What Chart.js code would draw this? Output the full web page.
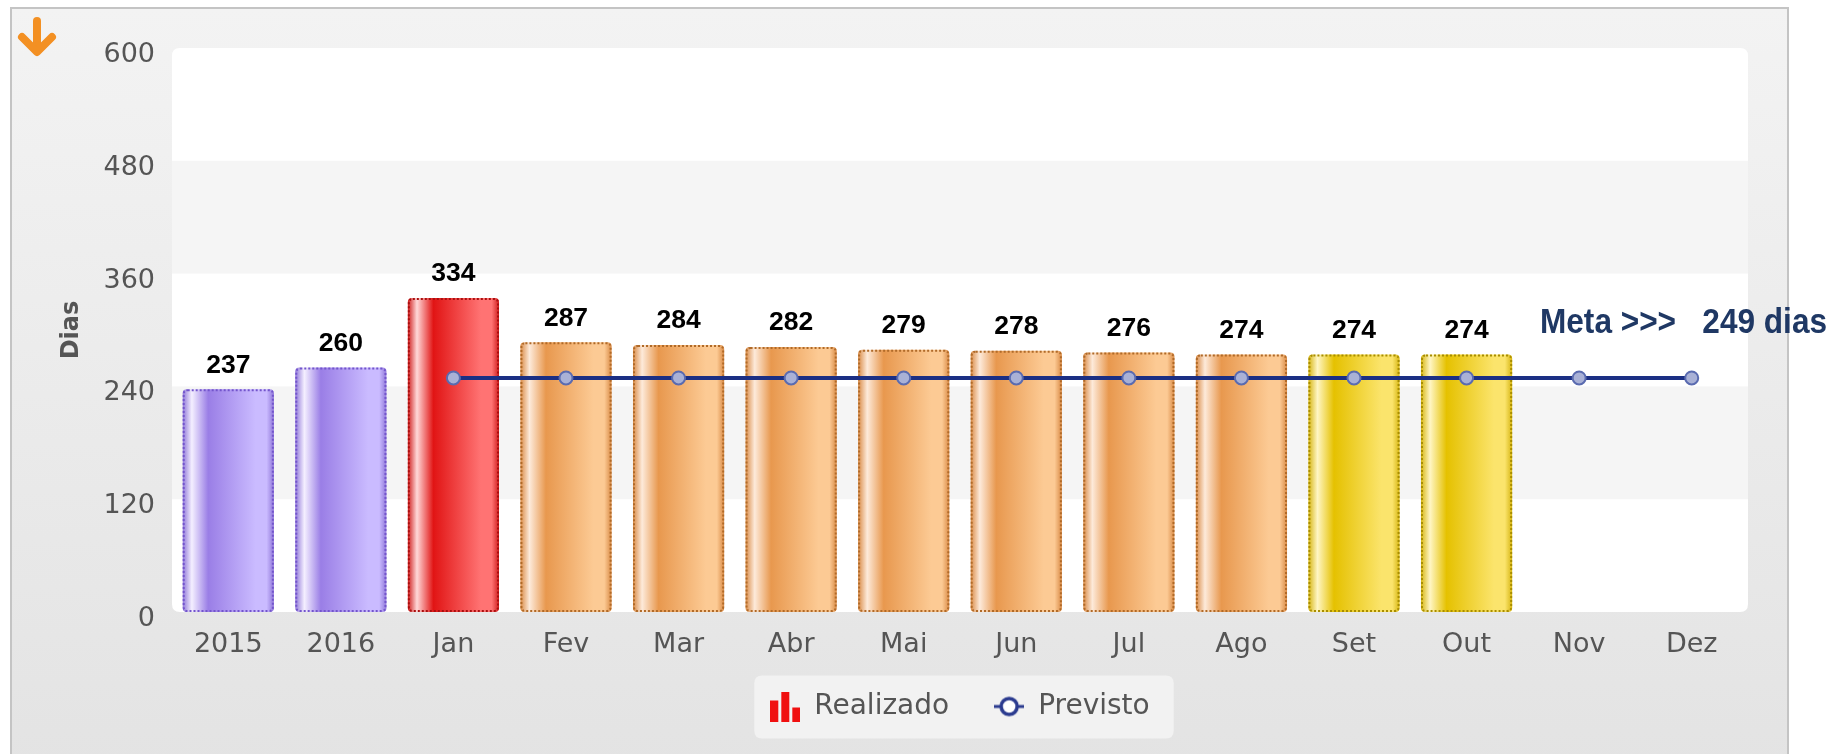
<!DOCTYPE html>
<html>
<head>
<meta charset="utf-8">
<script src="https://cdn.jsdelivr.net/npm/chart.js@4.4.1/dist/chart.umd.min.js"></script>
<style>
html,body{margin:0;padding:0;background:#fff;width:1848px;height:754px;overflow:hidden}
#panel{position:absolute;left:10px;top:7px;width:1775px;height:770px;border:2px solid #c4c4c4;background:linear-gradient(#f3f3f3,#e3e3e3)}
#wrap{position:absolute;left:0;top:0;width:1848px;height:754px}
</style>
</head>
<body>
<div id="panel"></div>
<div id="wrap"><canvas id="c"></canvas></div>
<script>
// ---- data ----
const categories = ['2015','2016','Jan','Fev','Mar','Abr','Mai','Jun','Jul','Ago','Set','Out','Nov','Dez'];
const realizado = [237,260,334,287,284,282,279,278,276,274,274,274,null,null];
const previsto  = [null,null,249,249,249,249,249,249,249,249,249,249,249,249];
const metaValue = 249;
const yMin = 0, yMax = 600, yStep = 120;
const seriesNames = ['Realizado','Previsto'];
const yTitle = 'Dias';
const metaText = 'Meta >>>   ' + metaValue + ' dias';

// ---- styles ----
const palettes = {
  purple: {edge:'#8f76d9', hi:'#f4efff', dark:'#9a7ee6', light:'#cabbff', border:'#7355cc'},
  red:    {edge:'#cf1c1c', hi:'#ffd8d8', dark:'#e11414', light:'#ff7373', border:'#a80e0e'},
  orange: {edge:'#d98a45', hi:'#fdeada', dark:'#e8984e', light:'#fcca94', border:'#b06a28'},
  yellow: {edge:'#d6b511', hi:'#fff6c4', dark:'#e5c100', light:'#fbe46c', border:'#a88d00'}
};
const barStyle = ['purple','purple','red','orange','orange','orange','orange','orange','orange','orange','yellow','yellow','orange','orange'];
const tickFont = '"DejaVu Sans", Verdana, sans-serif';

function rr(ctx, x, y, w, h, r) {
  ctx.beginPath();
  ctx.moveTo(x + r, y);
  ctx.lineTo(x + w - r, y);
  ctx.quadraticCurveTo(x + w, y, x + w, y + r);
  ctx.lineTo(x + w, y + h - r);
  ctx.quadraticCurveTo(x + w, y + h, x + w - r, y + h);
  ctx.lineTo(x + r, y + h);
  ctx.quadraticCurveTo(x, y + h, x, y + h - r);
  ctx.lineTo(x, y + r);
  ctx.quadraticCurveTo(x, y, x + r, y);
  ctx.closePath();
}

function barFill(c) {
  const p = palettes[barStyle[c.dataIndex] || 'orange'];
  const chart = c.chart;
  const a = chart.chartArea;
  if (!a || c.dataIndex === undefined || !chart.scales.x) return p.dark;
  const xs = chart.scales.x;
  const cx = xs.getPixelForValue(c.dataIndex);
  const w = xs.width / categories.length * 0.81;
  const g = chart.ctx.createLinearGradient(cx - w / 2, 0, cx + w / 2, 0);
  g.addColorStop(0, p.edge);
  g.addColorStop(0.1, p.hi);
  g.addColorStop(0.28, p.dark);
  g.addColorStop(0.8, p.light);
  g.addColorStop(0.92, p.light);
  g.addColorStop(1, p.edge);
  return g;
}

// legend icons
function makeBarIcon() {
  const cv = document.createElement('canvas');
  cv.width = 30; cv.height = 30;
  const x = cv.getContext('2d');
  x.fillStyle = '#f01010';
  x.fillRect(0, 9, 8, 21);
  x.fillRect(11, 0, 8, 30);
  x.fillRect(22, 16, 8, 14);
  return cv;
}
function makeLineIcon() {
  const cv = document.createElement('canvas');
  cv.width = 30; cv.height = 30;
  const x = cv.getContext('2d');
  x.strokeStyle = '#2b3b8f';
  x.lineWidth = 3;
  x.beginPath(); x.moveTo(0, 15); x.lineTo(30, 15); x.stroke();
  x.beginPath(); x.arc(15, 15, 8, 0, Math.PI * 2);
  x.fillStyle = '#fff'; x.fill();
  x.lineWidth = 3.5; x.stroke();
  return cv;
}
const barIcon = makeBarIcon();
const lineIcon = makeLineIcon();

const decorPlugin = {
  id: 'decor',
  beforeDraw(chart) {
    const {ctx, chartArea: a, scales: {y}} = chart;
    ctx.save();
    rr(ctx, a.left, a.top, a.width, a.height, 8);
    ctx.fillStyle = '#ffffff';
    ctx.fill();
    ctx.clip();
    ctx.fillStyle = '#f5f5f5';
    for (let v = yMin; v < yMax; v += yStep) {
      if (((v - yMin) / yStep) % 2 === 1) {
        const y1 = y.getPixelForValue(v + yStep), y2 = y.getPixelForValue(v);
        ctx.fillRect(a.left, y1, a.width, y2 - y1);
      }
    }
    ctx.restore();
    // legend background
    const lg = chart.legend;
    if (lg && lg.legendHitBoxes && lg.legendHitBoxes.length) {
      const hb = lg.legendHitBoxes;
      const l = hb[0].left - 16;
      const r = hb[hb.length - 1].left + hb[hb.length - 1].width + 24;
      const t = hb[0].top - 17;
      const b = hb[0].top + hb[0].height + 18;
      ctx.save();
      rr(ctx, l, t, r - l, b - t, 8);
      ctx.fillStyle = '#f2f2f2';
      ctx.fill();
      ctx.restore();
    }
  },
  afterDatasetDraw(chart, args) {
    if (args.index !== 0) return;
    const ctx = chart.ctx;
    const meta = chart.getDatasetMeta(0);
    ctx.save();
    ctx.setLineDash([2, 2]);
    ctx.lineWidth = 2;
    meta.data.forEach((el, i) => {
      if (realizado[i] == null) return;
      const {x, y, base, width} = el.getProps(['x', 'y', 'base', 'width'], true);
      ctx.strokeStyle = palettes[barStyle[i]].border;
      rr(ctx, x - width / 2 + 1, y + 1, width - 2, base - y - 2, 4);
      ctx.stroke();
    });
    ctx.restore();
  },
  afterDatasetsDraw(chart) {
    const ctx = chart.ctx;
    const meta = chart.getDatasetMeta(0);
    ctx.save();
    ctx.font = 'bold 26.5px "Liberation Sans", Arial, sans-serif';
    ctx.fillStyle = '#000';
    ctx.textAlign = 'center';
    ctx.textBaseline = 'middle';
    meta.data.forEach((el, i) => {
      if (realizado[i] == null) return;
      ctx.fillText(String(realizado[i]), el.x, el.y - 24);
    });
    // meta text (condensed bold)
    const ys = chart.scales.y;
    ctx.font = 'bold 35px "Liberation Sans", Arial, sans-serif';
    ctx.fillStyle = '#1f3864';
    ctx.textAlign = 'left';
    const tw = ctx.measureText(metaText).width;
    const targetW = 287;
    ctx.translate(chart.chartArea.right - 208, ys.getPixelForValue(metaValue) - 55);
    ctx.scale(targetW / tw, 1);
    ctx.fillText(metaText, 0, 0);
    ctx.restore();
  },
  afterDraw(chart) {
    const ctx = chart.ctx;
    ctx.save();
    ctx.strokeStyle = '#f39023';
    ctx.lineCap = 'round';
    ctx.lineJoin = 'round';
    ctx.lineWidth = 8;
    ctx.beginPath(); ctx.moveTo(37, 21); ctx.lineTo(37, 50); ctx.stroke();
    ctx.beginPath(); ctx.moveTo(22, 37); ctx.lineTo(37, 52); ctx.lineTo(52, 37); ctx.stroke();
    ctx.restore();
  }
};

new Chart(document.getElementById('c'), {
  type: 'bar',
  data: {
    labels: categories,
    datasets: [
      {
        type: 'bar',
        label: seriesNames[0],
        data: realizado,
        order: 1,
        backgroundColor: barFill,
        borderWidth: 0,
        borderRadius: 4,
        borderSkipped: false,
        barPercentage: 0.81,
        categoryPercentage: 1
      },
      {
        type: 'line',
        label: seriesNames[1],
        data: previsto,
        order: 0,
        borderColor: '#1b2f84',
        borderWidth: 4,
        pointRadius: 6.5,
        pointBackgroundColor: '#a9b1d6',
        pointBorderColor: '#5a6bb0',
        pointBorderWidth: 2,
        tension: 0,
        spanGaps: false
      }
    ]
  },
  options: {
    responsive: true,
    maintainAspectRatio: false,
    animation: false,
    events: [],
    layout: { padding: { left: 0, right: 100, top: 48, bottom: 23.5 } },
    scales: {
      x: {
        grid: { display: false, drawTicks: false },
        border: { display: false },
        ticks: { color: '#555', font: { family: tickFont, size: 27 }, padding: 17, maxRotation: 0, autoSkip: false },
        afterFit(s) { s.height = 35.5; s._computeLabelArea = () => undefined; }
      },
      y: {
        min: yMin, max: yMax,
        grid: { display: false, drawTicks: false },
        border: { display: false },
        ticks: { stepSize: yStep, color: '#555', font: { family: tickFont, size: 27 }, padding: 17, labelOffset: 7 },
        title: { display: true, text: yTitle, color: '#555', font: { family: tickFont, size: 24, weight: 'bold' }, padding: { top: 57.6, bottom: 0 } },
        afterFit(s) { s.width = 172; }
      }
    },
    plugins: {
      tooltip: { enabled: false },
      legend: {
        display: true,
        position: 'bottom',
        fullSize: false,
        labels: {
          usePointStyle: true,
          pointStyleWidth: 30,
          padding: 45,
          color: '#555',
          font: { family: tickFont, size: 28 },
          generateLabels: () => [
            { text: seriesNames[0], pointStyle: barIcon, fillStyle: '#f01010', strokeStyle: '#f01010', lineWidth: 0, hidden: false, datasetIndex: 0, fontColor: '#555' },
            { text: seriesNames[1], pointStyle: lineIcon, fillStyle: '#2b3b8f', strokeStyle: '#2b3b8f', lineWidth: 0, hidden: false, datasetIndex: 1, fontColor: '#555' }
          ]
        }
      }
    }
  },
  plugins: [decorPlugin]
});
</script>
</body>
</html>
